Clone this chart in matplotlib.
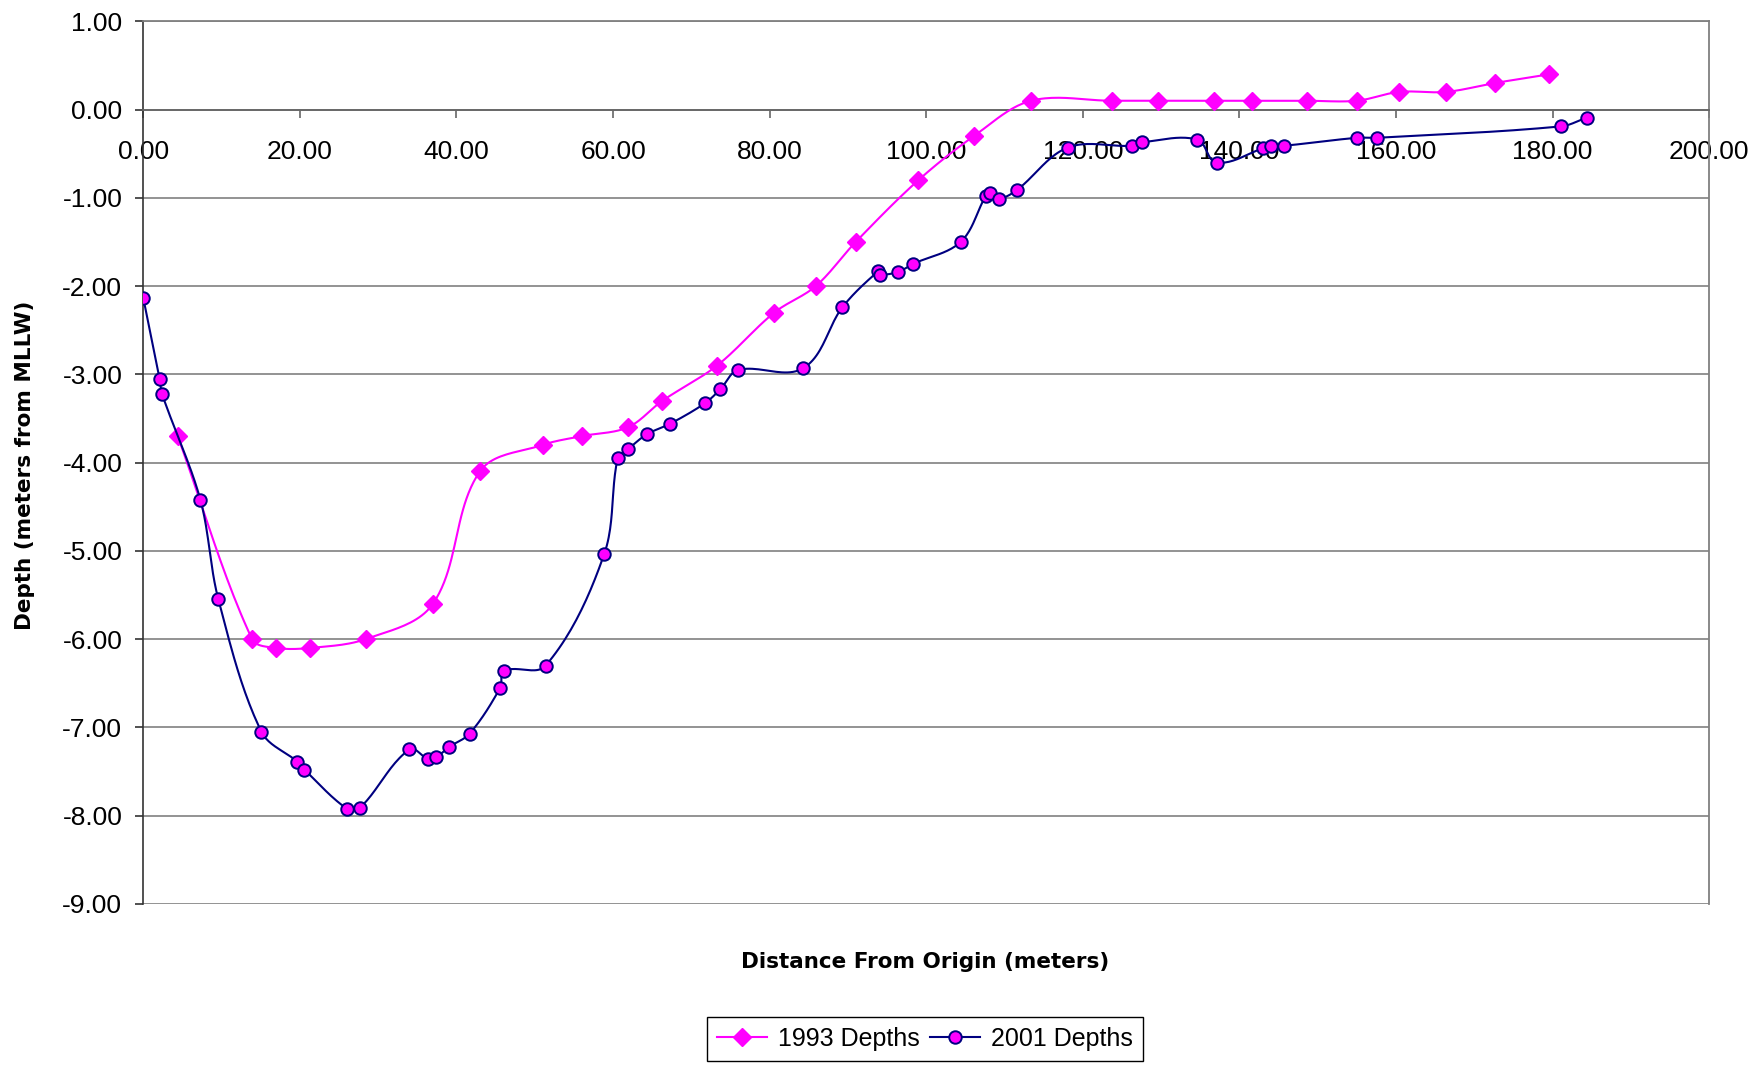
import numpy as np
import matplotlib
matplotlib.use("Agg")
import matplotlib.pyplot as plt
from matplotlib.lines import Line2D

# ---- data ----
x1993 = [4.4, 13.9, 17.0, 21.3, 28.4, 37.0, 43.0, 51.0, 56.0, 61.9, 66.3, 73.3,
         80.6, 85.9, 91.0, 99.0, 106.1, 113.4, 123.7, 129.6, 136.7, 141.6, 148.6,
         155.0, 160.4, 166.4, 172.6, 179.6]
y1993 = [-3.70, -6.00, -6.10, -6.10, -6.00, -5.60, -4.10, -3.80, -3.70, -3.60, -3.30, -2.90,
         -2.30, -2.00, -1.50, -0.80, -0.30, 0.10, 0.10, 0.10, 0.10, 0.10, 0.10,
         0.10, 0.20, 0.20, 0.30, 0.40]

x2001 = [0.0, 2.1, 2.4, 7.3, 9.6, 15.1, 19.7, 20.6, 26.0, 27.7, 34.0, 36.4, 37.4,
         39.1, 41.7, 45.6, 46.1, 51.4, 58.9, 60.6, 61.9, 64.3, 67.3, 71.7, 73.7,
         76.0, 84.3, 89.3, 93.9, 94.1, 96.4, 98.3, 104.4, 107.6, 108.1, 109.3,
         111.6, 118.1, 126.3, 127.6, 134.6, 137.1, 143.0, 144.0, 145.7, 155.0,
         157.6, 181.1, 184.4]
y2001 = [-2.13, -3.05, -3.22, -4.42, -5.55, -7.05, -7.39, -7.48, -7.92, -7.91, -7.25, -7.36, -7.34,
         -7.22, -7.07, -6.55, -6.36, -6.30, -5.03, -3.95, -3.85, -3.68, -3.56, -3.33, -3.17,
         -2.95, -2.93, -2.24, -1.83, -1.87, -1.84, -1.75, -1.50, -0.98, -0.95, -1.01,
         -0.91, -0.43, -0.41, -0.37, -0.34, -0.60, -0.44, -0.41, -0.41, -0.32,
         -0.32, -0.19, -0.09]

series_labels = ["1993 Depths", "2001 Depths"]
xticks = np.arange(0, 201, 20)
yticks = np.arange(-9, 2, 1)

plt.rcParams['axes.unicode_minus'] = False
tick_font = ['Liberation Sans', 'DejaVu Sans']
label_font = ['DejaVu Sans']

def smooth(x, y, sx=7.83, sy=88.26, n=24):
    """Smoothed line through the data points (Bezier, tangents from neighbours,
    handle length scaled by each segment's own length, computed in screen units)."""
    P = np.column_stack([np.asarray(x, float) * sx, np.asarray(y, float) * sy])
    m = len(P)
    t = np.linspace(0, 1, n)
    def tangent(i):
        a = P[i - 1] if i > 0 else P[i]
        b = P[i + 1] if i + 1 < m else P[i]
        d = b - a
        L = np.hypot(*d)
        return d / L if L > 0 else d
    out = []
    for i in range(m - 1):
        p1, p2 = P[i], P[i + 1]
        L = np.hypot(*(p2 - p1)) / 3.0
        c1 = p1 + tangent(i) * L
        c2 = p2 - tangent(i + 1) * L
        seg = ((1 - t)[:, None] ** 3) * p1 + 3 * ((1 - t) ** 2 * t)[:, None] * c1 \
            + 3 * ((1 - t) * t ** 2)[:, None] * c2 + (t ** 3)[:, None] * p2
        out.append(seg if i == 0 else seg[1:])
    S = np.vstack(out)
    return S[:, 0] / sx, S[:, 1] / sy

fig = plt.figure(figsize=(17.54, 10.66), dpi=100)
ax = fig.add_axes([143.2/1754, 1-903.9/1066, (1709.2-143.2)/1754, (903.9-21.3)/1066])

c93 = '#FF00FF'
c01 = '#000080'

sx, sy = smooth(x1993, y1993)
ax.plot(sx, sy, color=c93, lw=1.5, zorder=3)
ax.plot(x1993, y1993, ls='none', marker='D', ms=9.5, color=c93, mec=c93, zorder=4)

sx, sy = smooth(x2001, y2001)
ax.plot(sx, sy, color=c01, lw=1.5, zorder=5)
ax.plot(x2001, y2001, ls='none', marker='o', ms=9, mfc=c93, mec=c01, mew=1.4, zorder=6)

ax.set_xlim(0, 200)
ax.set_ylim(-9, 1)
ax.set_xticks(xticks)
ax.set_yticks(yticks)
ax.set_xticklabels([f"{v:.2f}" for v in xticks])
ax.set_yticklabels([f"{v:.2f}" for v in yticks])

ax.yaxis.grid(True, color='#808080', lw=1.2, zorder=0)
ax.set_axisbelow(True)
ax.spines['bottom'].set_position(('data', 0))
ax.spines['bottom'].set_color('#666666')
ax.spines['bottom'].set_linewidth(1.3)
ax.spines['top'].set_color('#808080')
ax.spines['right'].set_color('#808080')
ax.spines['top'].set_linewidth(1.3)
ax.spines['right'].set_linewidth(1.3)
ax.spines['left'].set_color('#333333')
ax.spines['left'].set_linewidth(1.2)

ax.tick_params(axis='x', direction='out', length=6, width=1.2, color='#666666', pad=16)
ax.tick_params(axis='y', direction='out', length=6, width=1.2, color='#333333', pad=9)
for lab in ax.get_xticklabels() + ax.get_yticklabels():
    lab.set_family(tick_font)
    lab.set_fontsize(19)

fig.text(24.6/1754, 1-465/1066, "Depth (meters from MLLW)", rotation=90,
         ha='center', va='center', fontsize=15.5, fontweight='bold', family=label_font)
fig.text(925/1754, 1-962/1066, "Distance From Origin (meters)",
         ha='center', va='center', fontsize=15.5, fontweight='bold', family=label_font)

handles = [Line2D([], [], color=c93, lw=1.5, marker='D', ms=9.5, mfc=c93, mec=c93),
           Line2D([], [], color=c01, lw=1.5, marker='o', ms=9, mfc=c93, mec=c01, mew=1.4)]
leg = fig.legend(handles, series_labels, loc='upper center', bbox_to_anchor=(925/1754, 1-1017/1066),
                 ncol=2, frameon=True, fancybox=False, edgecolor='black', framealpha=1,
                 prop={'family': tick_font, 'size': 18}, handlelength=2.0, columnspacing=0.4,
                 handletextpad=0.45, borderpad=0.4, borderaxespad=0)
leg.get_frame().set_linewidth(1.0)

fig.savefig("out.png", dpi=100)
